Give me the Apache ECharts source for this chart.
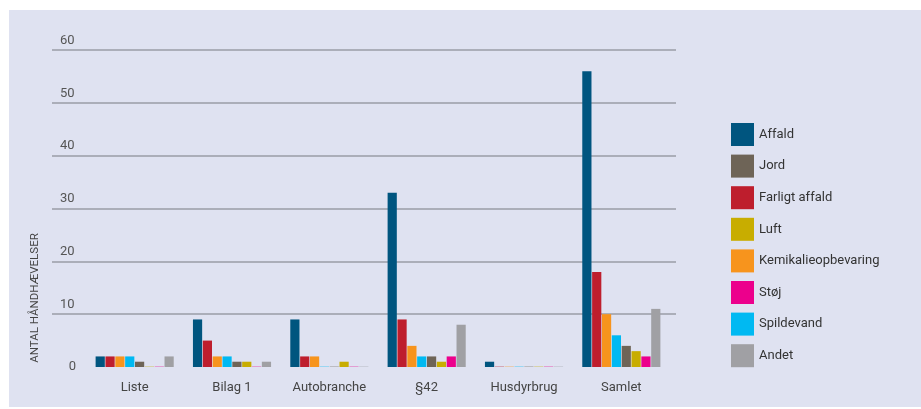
<!DOCTYPE html>
<html><head><meta charset="utf-8">
<script src="https://cdn.jsdelivr.net/npm/echarts@6/dist/echarts.min.js"></script>
<style>html,body{margin:0;padding:0;background:#fff}#c{width:921px;height:409px}</style>
</head><body><div id="c"></div>
<script>
const categories = ['Liste', 'Bilag 1', 'Autobranche', '§42', 'Husdyrbrug', 'Samlet'];
const affald      = [2, 9, 9, 33, 1, 56];
const farligt     = [2, 5, 2, 9, 0, 18];
const kemi        = [2, 2, 2, 4, 0, 10];
const spildevand  = [2, 2, 0, 2, 0, 6];
const jord        = [1, 1, 0, 2, 0, 4];
const luft        = [0, 1, 1, 1, 0, 3];
const stoj        = [0, 0, 0, 2, 0, 2];
const andet       = [2, 1, 0, 8, 0, 11];
const legendOrder = ['Affald', 'Jord', 'Farligt affald', 'Luft', 'Kemikalieopbevaring', 'Støj', 'Spildevand', 'Andet'];
const yTicks = [0, 10, 20, 30, 40, 50, 60];

const seriesDefs = [
  ['Affald', affald, '#00557f'],
  ['Farligt affald', farligt, '#be1e2d'],
  ['Kemikalieopbevaring', kemi, '#f7941d'],
  ['Spildevand', spildevand, '#00b9f2'],
  ['Jord', jord, '#6e6457'],
  ['Luft', luft, '#c8ad00'],
  ['Støj', stoj, '#ec008c'],
  ['Andet', andet, '#a0a0a4']
];

const font = 'Roboto, "Liberation Sans", sans-serif';
const chart = echarts.init(document.getElementById('c'), null, {renderer: 'canvas'});
chart.setOption({
  backgroundColor: '#ffffff',
  animation: false,
  graphic: [
    {type: 'rect', z: -10, shape: {x: 9, y: 10, width: 912, height: 397}, style: {fill: '#dfe2f1'}},
    {type: 'text', x: 35, y: 298, rotation: Math.PI / 2,
     style: {text: 'ANTAL HÅNDHÆVELSER', font: '11.5px ' + font, fill: '#444', align: 'center', verticalAlign: 'middle'}}
  ],
  legend: {
    data: legendOrder, orient: 'vertical', left: 726, top: 118,
    itemWidth: 23, itemHeight: 23, itemGap: 8.6, icon: 'rect',
    textStyle: {fontFamily: font, fontSize: 13, color: '#333'}
  },
  grid: [
    {left: 52, right: 245, top: 50, bottom: 409 - 314.2},
    {left: 86, right: 251, top: 50, bottom: 409 - 367}
  ],
  xAxis: [
    {gridIndex: 0, type: 'value', show: false, min: 0, max: 1},
    {gridIndex: 1, type: 'category', data: categories,
     axisLine: {show: false}, axisTick: {show: false},
     axisLabel: {margin: 14, fontFamily: font, fontSize: 13, color: '#444'}}
  ],
  yAxis: [
    {gridIndex: 0, type: 'value', min: 10, max: 60, interval: 10,
     axisLine: {show: false}, axisTick: {show: false},
     splitLine: {show: true, lineStyle: {color: '#9a9ca6', width: 1.5}},
     axisLabel: {inside: true, margin: 8, verticalAlign: 'bottom', padding: [0, 0, 3, 0],
                 fontFamily: font, fontSize: 13, color: '#555'}},
    {gridIndex: 1, type: 'value', min: yTicks[0], max: yTicks[yTicks.length - 1], interval: 10,
     axisLine: {show: false}, axisTick: {show: false}, splitLine: {show: false},
     axisLabel: {inside: false, margin: 10, align: 'right', verticalAlign: 'middle', padding: [0, 0, 6, 0],
                 fontFamily: font, fontSize: 13, color: '#555',
                 formatter: v => (v === 0 ? '0' : '')}}
  ],
  series: seriesDefs.map(([name, arr, color]) => ({
    name, type: 'bar', xAxisIndex: 1, yAxisIndex: 1,
    barWidth: 9.2, barGap: '7%', barMinHeight: 1,
    itemStyle: {color},
    data: arr.map(v => (v === 0 ? {value: 0, itemStyle: {opacity: 0.3}} : v))
  }))
});
</script></body></html>
